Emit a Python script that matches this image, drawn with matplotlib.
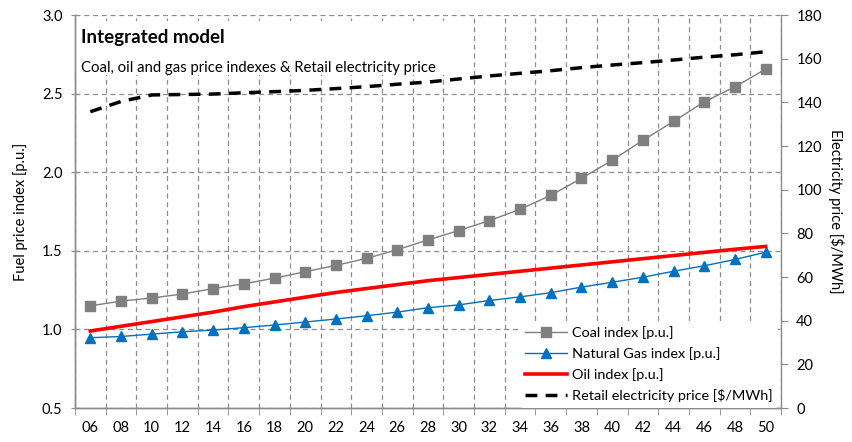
import matplotlib
matplotlib.use("Agg")
import matplotlib.pyplot as plt
from matplotlib.patches import Rectangle
from matplotlib.ticker import FixedLocator, MultipleLocator, FormatStrFormatter

plt.rcParams['font.family'] = ['Lato', 'DejaVu Sans']

years = ["06", "08", "10", "12", "14", "16", "18", "20", "22", "24", "26", "28",
         "30", "32", "34", "36", "38", "40", "42", "44", "46", "48", "50"]

coal_index = [1.15, 1.18, 1.20, 1.225, 1.26, 1.29, 1.326, 1.367, 1.407, 1.452, 1.507,
              1.569, 1.629, 1.692, 1.764, 1.853, 1.961, 2.076, 2.203, 2.323, 2.448,
              2.543, 2.656]
gas_index = [0.947, 0.955, 0.970, 0.985, 0.996, 1.011, 1.028, 1.047, 1.066, 1.087,
             1.110, 1.138, 1.156, 1.184, 1.207, 1.234, 1.269, 1.300, 1.332, 1.370,
             1.405, 1.445, 1.491]
oil_index = [0.99, 1.02, 1.05, 1.08, 1.11, 1.145, 1.175, 1.205, 1.235, 1.26, 1.285,
             1.31, 1.33, 1.35, 1.37, 1.39, 1.41, 1.43, 1.45, 1.47, 1.49, 1.51, 1.528]
electricity_price = [135.7, 140.4, 143.4, 143.6, 143.8, 144.4, 144.9, 145.5, 146.3,
                     147.2, 148.3, 149.3, 150.7, 152.1, 153.3, 154.5, 155.9, 157.1,
                     158.2, 159.4, 160.7, 161.8, 163.2]

x = list(range(len(years)))

fig = plt.figure(figsize=(8.53, 4.42), dpi=100)
ax = fig.add_axes([0.0879, 0.0769, 0.8277, 0.8891])
ax2 = ax.twinx()

axis_gray = "#8c8c8c"
grid_gray = "#8c8c8c"

# fuel indexes on the left axis
l_coal, = ax.plot(x, coal_index, color="#7f7f7f", lw=1.0, marker="s", ms=7,
                  markeredgecolor="#7f7f7f", markerfacecolor="#7f7f7f",
                  label="Coal index [p.u.]", zorder=3)
l_gas, = ax.plot(x, gas_index, color="#0070c0", lw=1.0, marker="^", ms=7,
                 markeredgecolor="#0070c0", markerfacecolor="#0070c0",
                 label="Natural Gas index [p.u.]", zorder=3)
l_oil, = ax.plot(x, oil_index, color="#ff0000", lw=2.6,
                 label="Oil index [p.u.]", zorder=3)

# electricity price on the right axis
l_el, = ax2.plot(x, electricity_price, color="black", lw=2.5, dashes=(3.4, 2.4),
                 label="Retail electricity price [$/MWh]", zorder=3)

ax.set_xlim(-0.5, len(years) - 0.5)
ax.set_ylim(0.5, 3.0)
ax2.set_ylim(0, 180)

ax.set_xticks(x)
ax.set_xticklabels(years)
ax.xaxis.set_minor_locator(FixedLocator([i - 0.5 for i in range(len(years) + 1)]))
ax.tick_params(axis="x", which="major", length=0, pad=9, labelsize=10.5)
ax.tick_params(axis="x", which="minor", length=5, color=axis_gray, direction="out")

ax.yaxis.set_major_locator(MultipleLocator(0.5))
ax.yaxis.set_major_formatter(FormatStrFormatter("%.1f"))
ax.tick_params(axis="y", length=6, direction="inout", color=axis_gray,
               labelsize=10.5, pad=6)
ax2.yaxis.set_major_locator(MultipleLocator(20))
ax2.tick_params(axis="y", length=5, direction="out", color=axis_gray,
                labelsize=10.5, pad=6)

ax.grid(True, which="major", axis="y", color=grid_gray, ls=(0, (4, 3)), lw=0.9)
ax.grid(True, which="minor", axis="x", color=grid_gray, ls=(0, (4, 3)), lw=0.9)

for a in (ax, ax2):
    a.spines["top"].set_visible(False)
    for s in ("left", "right", "bottom"):
        a.spines[s].set_color(axis_gray)
        a.spines[s].set_linewidth(1.0)
ax.spines["right"].set_visible(False)

ax.set_ylabel("Fuel price index [p.u.]", fontsize=10.5, labelpad=10)
ax2.set_ylabel("Electricity price [$/MWh]", fontsize=10.5, rotation=270, labelpad=16)

# white block behind the chart heading
ax.add_patch(Rectangle((0.002, 0.848), 0.522, 0.138, transform=ax.transAxes,
                       facecolor="white", edgecolor="none", zorder=2))
ax.text(0.009, 0.944, "Integrated model", transform=ax.transAxes, fontsize=13.5,
        fontweight="bold", va="center", ha="left", zorder=4)
ax.text(0.009, 0.866, "Coal, oil and gas price indexes & Retail electricity price",
        transform=ax.transAxes, fontsize=10.7, va="center", ha="left", zorder=4)

leg = ax2.legend(handles=[l_coal, l_gas, l_oil, l_el], loc="lower right",
                 bbox_to_anchor=(1.006, -0.018), frameon=True, fontsize=10.4,
                 handlelength=2.9, handletextpad=0.3, labelspacing=0.55,
                 borderpad=0.4)
leg.get_frame().set_edgecolor("none")
leg.get_frame().set_facecolor("white")
leg.get_frame().set_alpha(1.0)

fig.savefig("out.png", dpi=100)
